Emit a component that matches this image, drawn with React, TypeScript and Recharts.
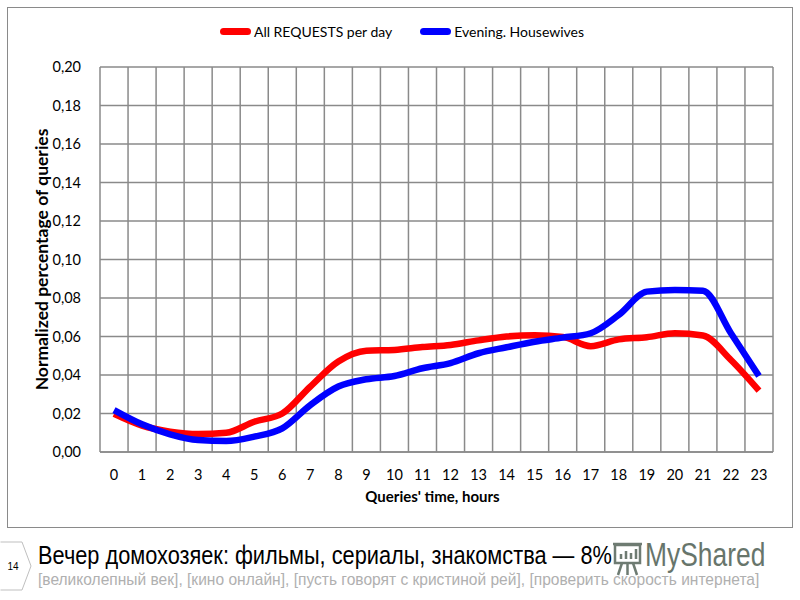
import { LineChart, Line, XAxis, YAxis, CartesianGrid, ReferenceLine, Legend } from 'recharts';

// hours of the day
const hours = [0, 1, 2, 3, 4, 5, 6, 7, 8, 9, 10, 11, 12, 13, 14, 15, 16, 17, 18, 19, 20, 21, 22, 23];

const allRequests = [
  0.0198, 0.0137, 0.0106, 0.0093, 0.0100, 0.0157, 0.0200, 0.0340, 0.0470, 0.0526, 0.0530, 0.0545,
  0.0556, 0.0580, 0.0600, 0.0607, 0.0598, 0.0550, 0.0585, 0.0596, 0.0617, 0.0605, 0.0478, 0.0319,
];

const housewives = [
  0.0218, 0.0144, 0.0092, 0.0062, 0.0057, 0.0080, 0.0123, 0.0244, 0.0340, 0.0378, 0.0395, 0.0435,
  0.0462, 0.0513, 0.0544, 0.0573, 0.0594, 0.0617, 0.0712, 0.0833, 0.0842, 0.0838, 0.0617, 0.0395,
];

const yTicks = [0, 0.02, 0.04, 0.06, 0.08, 0.1, 0.12, 0.14, 0.16, 0.18, 0.2];

// cell borders between the hours
const hourEdges = [...hours.map((h) => h - 0.5), 23.5];

const seriesNames = ['All REQUESTS per day', 'Evening. Housewives'];
const seriesColors = ['#ff0000', '#0000ff'];

const data = hours.map((h, i) => ({ hour: h, all: allRequests[i], evening: housewives[i] }));

const chartFont = 'Lato, "Open Sans", sans-serif';
const slideFont = '"Liberation Sans", Arial, sans-serif';
const gridColor = '#8a8a8a';

function LegendRow() {
  return (
    <div style={{ display: 'flex', justifyContent: 'center', alignItems: 'center', fontFamily: chartFont, fontSize: 14, color: '#000', height: 17, paddingLeft: 4 }}>
      {seriesNames.map((name, i) => (
        <div key={name} style={{ display: 'flex', alignItems: 'center', marginRight: i === 0 ? 28 : 0 }}>
          <span style={{ display: 'inline-block', width: 31, height: 7, borderRadius: 3.5, background: seriesColors[i], marginRight: 3 }} />
          <span>{name}</span>
        </div>
      ))}
    </div>
  );
}

export default function App() {
  return (
    <div style={{ position: 'absolute', left: 0, top: 0, width: 800, height: 600, background: '#fff', overflow: 'hidden' }}>
      <div style={{ position: 'absolute', left: 7, top: 7, width: 786, height: 521, border: '1.5px solid #8a8a8a', boxSizing: 'border-box' }} />
      <div style={{ position: 'absolute', left: 8, top: 8 }}>
        <LineChart width={784} height={519} data={data} margin={{ top: 42, right: 19, bottom: 14, left: 0 }}>
          <CartesianGrid vertical={false} stroke={gridColor} strokeWidth={1.5} />
          {hourEdges.map((x) => (
            <ReferenceLine key={x} x={x} stroke={gridColor} strokeWidth={1.5} ifOverflow="visible" />
          ))}
          <XAxis
            dataKey="hour"
            type="number"
            domain={[-0.5, 23.5]}
            ticks={hours}
            interval={0}
            tickLine={false}
            axisLine={{ stroke: gridColor, strokeWidth: 1.5 }}
            tick={{ fill: '#000', fontSize: 14.5, fontFamily: chartFont }}
            tickMargin={12}
            height={61}
            label={{
              content: ({ viewBox }: any) => (
                <text
                  x={viewBox.x + viewBox.width / 2 - 4}
                  y={viewBox.y + 50}
                  textAnchor="middle"
                  style={{ fontFamily: chartFont, fontSize: 15, fontWeight: 700, fill: '#000' }}
                >
                  Queries' time, hours
                </text>
              ),
            }}
          />
          <YAxis
            domain={[0, 0.2]}
            ticks={yTicks}
            interval={0}
            width={92}
            tickLine={false}
            axisLine={false}
            tick={{ fill: '#000', fontSize: 14.5, fontFamily: chartFont }}
            tickMargin={13}
            tickFormatter={(v) => v.toFixed(2).replace('.', ',')}
            label={{
              content: ({ viewBox }: any) => (
                <text
                  x={0}
                  y={0}
                  transform={`translate(${viewBox.x + 40}, ${viewBox.y + viewBox.height / 2}) rotate(-90)`}
                  textAnchor="middle"
                  style={{ fontFamily: chartFont, fontSize: 17.5, fontWeight: 700, fill: '#000' }}
                >
                  Normalized percentage of queries
                </text>
              ),
            }}
          />
          <Legend verticalAlign="top" content={() => <LegendRow />} wrapperStyle={{ top: 15, left: 0, width: 784 }} />
          <Line type="monotone" dataKey="all" name={seriesNames[0]} stroke={seriesColors[0]} strokeWidth={6.5} dot={false} isAnimationActive={false} />
          <Line type="monotone" dataKey="evening" name={seriesNames[1]} stroke={seriesColors[1]} strokeWidth={6.5} dot={false} isAnimationActive={false} />
        </LineChart>
      </div>

      {/* slide footer */}
      <svg style={{ position: 'absolute', left: 0, top: 540 }} width={36} height={54}>
        <path d="M0.5 2 H22 L31 26 L22 50 H0.5" fill="#fff" stroke="#bfbfbf" strokeWidth={1} />
        <text x={13} y={30} textAnchor="middle" style={{ fontFamily: slideFont, fontSize: 10, fill: '#000' }}>14</text>
      </svg>
      <div style={{ position: 'absolute', left: 38, top: 540, fontFamily: slideFont, fontSize: 25, color: '#000', whiteSpace: 'nowrap', lineHeight: '30px', transform: 'scaleX(0.87)', transformOrigin: 'left top' }}>
        Вечер домохозяек: фильмы, сериалы, знакомства — 8%
      </div>
      <div style={{ position: 'absolute', left: 38, top: 570, fontFamily: slideFont, fontSize: 17, color: '#b0b0b0', whiteSpace: 'nowrap', lineHeight: '20px', transform: 'scaleX(0.915)', transformOrigin: 'left top' }}>
        [великолепный век], [кино онлайн], [пусть говорят с кристиной рей], [проверить скорость интернета]
      </div>
      <svg style={{ position: 'absolute', left: 612, top: 539 }} width={32} height={40}>
        <g fill="none" stroke="#55655a" strokeWidth={2.5} opacity={0.85}>
          <rect x={3} y={6} width={25} height={18} />
          <path d="M1 5 H30" />
          <path d="M10 24 L6 36 M21 24 L25 36 M15.5 24 V36" />
          <path d="M9 20 V15 M14 20 V12 M19 20 V14 M24 20 V10" />
        </g>
      </svg>
      <div style={{ position: 'absolute', left: 645, top: 535, fontFamily: slideFont, fontSize: 33, color: '#4d5d52', opacity: 0.85, whiteSpace: 'nowrap', lineHeight: '40px', transform: 'scaleX(0.8)', transformOrigin: 'left top' }}>
        MyShared
      </div>
    </div>
  );
}
